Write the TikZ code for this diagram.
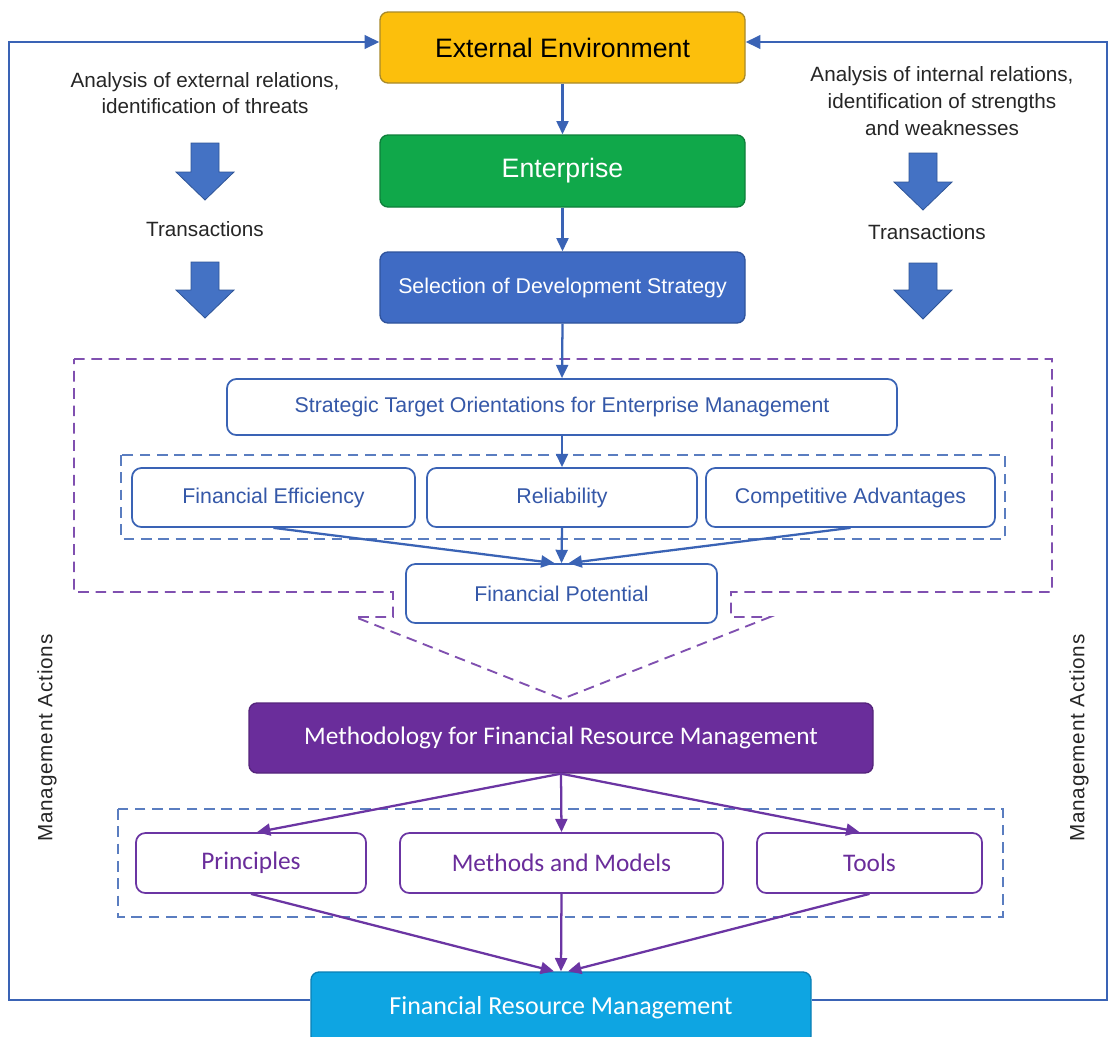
\documentclass[tikz,border=0pt]{standalone}
\usepackage{fontspec}
\setmainfont{Liberation Sans}
\newfontfamily\calfont{Carlito}
\newfontfamily\spacedfont[LetterSpace=4]{Liberation Sans}
\usetikzlibrary{arrows.meta,calc}
\definecolor{cyellow}{HTML}{FCBF0C}
\definecolor{cyellowb}{HTML}{A88A2A}
\definecolor{cgreen}{HTML}{10A84A}
\definecolor{cgreenb}{HTML}{0E7F3A}
\definecolor{cblue}{HTML}{3F6BC4}
\definecolor{cblueb}{HTML}{2F539C}
\definecolor{lineblue}{HTML}{3A63B5}
\definecolor{txtblue}{HTML}{3558A8}
\definecolor{cpurple}{HTML}{6A2D9B}
\definecolor{linepurple}{HTML}{6B35A3}
\definecolor{dashpurple}{HTML}{8050B0}
\definecolor{dashblue}{HTML}{5A7DC0}
\definecolor{ccyan}{HTML}{0EA5E2}
\definecolor{ccyanb}{HTML}{0A7FB5}
\definecolor{bigarrow}{HTML}{4472C4}
\definecolor{bigarrowb}{HTML}{2F5597}
\tikzset{
  sz/.style 2 args={minimum width=#1*0.75pt, minimum height=#2*0.75pt, inner sep=0pt},
  topbox/.style={rounded corners=6pt, line width=1pt, align=center},
  bluebox/.style={rounded corners=7pt, draw=lineblue, line width=1.3pt, fill=white, text=txtblue, font=\fontsize{16}{19}\selectfont},
  purplebox/.style={rounded corners=7pt, draw=linepurple, line width=1.3pt, fill=white, text=cpurple, font=\calfont\fontsize{19}{22}\selectfont},
  barrow/.style={draw=lineblue, line width=1.7pt, -{Triangle[length=10pt,width=9pt]}},
  parrow/.style={draw=linepurple, line width=1.7pt, -{Triangle[length=10pt,width=9pt]}},
  fbline/.style={draw=lineblue, line width=2pt},
  sidetext/.style={align=center, font=\fontsize{15.5}{20}\selectfont, text=black!85},
  dashp/.style={draw=dashpurple, line width=1.4pt, dash pattern=on 8pt off 5pt},
  dashb/.style={draw=dashblue, line width=1.3pt, dash pattern=on 8pt off 5pt},
  bigarr/.style={fill=bigarrow, draw=bigarrowb, line width=0.6pt, line join=miter},
  vert/.style={rotate=90, font=\spacedfont\fontsize{15.5}{18}\selectfont, text=black!85}
}
\begin{document}
\begin{tikzpicture}[x=0.75pt,y=-0.75pt]
\useasboundingbox[fill=white] (0,0) rectangle (1109,1036);

% top boxes
\node[topbox, sz={365}{71}, fill=cyellow, draw=cyellowb, text=black, font=\fontsize{20}{24}\selectfont] (ee) at (562.5,47.5) {External Environment};
\node[topbox, sz={365}{72}, fill=cgreen, draw=cgreenb, text=white, font=\fontsize{20}{24}\selectfont] (ent) at (562.5,171) {Enterprise};
\node[topbox, sz={365}{71}, fill=cblue, draw=cblueb, text=white, font=\fontsize{16}{19}\selectfont] (sel) at (562.5,287.5) {Selection of Development Strategy};

\draw[barrow] (ee.south) -- (ent.north);
\draw[barrow] (ent.south) -- (sel.north);

% side texts
\node[sidetext] (lt) at (205,93) {Analysis of external relations,\\identification of threats};
\node[sidetext] (ltr) at (205,229) {Transactions};
\node[sidetext] (rt) at (942,101) {Analysis of internal relations,\\identification of strengths\\and weaknesses};
\node[sidetext] (rtr) at (927,232) {Transactions};

% big block arrows
\foreach \cx/\ta/\tb/\tc in {205/143/172/200, 205/262/290/318, 923/153/182/210, 923/263/290/319}{
  \draw[bigarr] (\cx-14,\ta) -- (\cx+14,\ta) -- (\cx+14,\tb) -- (\cx+29,\tb) -- (\cx,\tc) -- (\cx-29,\tb) -- (\cx-14,\tb) -- cycle;
}

% outer purple dashed region
\draw[dashp] (74,359) -- (1052,359) -- (1052,592) -- (731,592) -- (731,617) -- (770,617) -- (562,699) -- (355,617) -- (393,617) -- (393,592) -- (74,592) -- cycle;

% strategic
\node[bluebox, sz={670}{56}] (sto) at (562,407) {Strategic Target Orientations for Enterprise Management};
\draw[dashb] (121,455) rectangle (1005,539);
\node[bluebox, sz={283}{59}] (fe) at (273.5,497.5) {Financial Efficiency};
\node[bluebox, sz={270}{59}] (rel) at (562,497.5) {Reliability};
\node[bluebox, sz={289}{59}] (ca) at (850.5,497.5) {Competitive Advantages};
\node[bluebox, sz={311}{59}] (fp) at (561.5,593.5) {Financial Potential};

\draw[barrow] (sel.south) -- (sto.north);
\draw[barrow] (sto.south) -- (rel.north);
\draw[barrow] (fe.south) -- ($(fp.north)+(-7,0)$);
\draw[barrow] (rel.south) -- (fp.north);
\draw[barrow] (ca.south) -- ($(fp.north)+(7,0)$);

% methodology
\node[topbox, sz={624}{70}, fill=cpurple, draw=cpurple!80!black, text=white, font=\calfont\fontsize{19}{22}\selectfont] (meth) at (561,738) {Methodology for Financial Resource Management};
\draw[dashb] (118,809) rectangle (1003,917);
\node[purplebox, sz={230}{60}] (pr) at (251,863) {Principles};
\node[purplebox, sz={323}{60}] (mm) at (561.5,863) {Methods and Models};
\node[purplebox, sz={225}{60}] (tl) at (869.5,863) {Tools};

\draw[parrow] (meth.south) -- ($(pr.north)+(6,0)$);
\draw[parrow] (meth.south) -- (mm.north);
\draw[parrow] (meth.south) -- ($(tl.north)+(-10,0)$);

\node[topbox, sz={500}{72}, fill=ccyan, draw=ccyanb, text=white, font=\calfont\fontsize{19.5}{22}\selectfont] (frm) at (561,1008) {Financial Resource Management};

\draw[parrow] (pr.south) -- ($(frm.north)+(-7,0)$);
\draw[parrow] (mm.south) -- (frm.north);
\draw[parrow] (tl.south) -- ($(frm.north)+(7,0)$);

% feedback loops
\coordinate (bl) at (9,1000);
\coordinate (tlc) at (9,42);
\coordinate (br) at (1107,1000);
\coordinate (trc) at (1107,42);
\draw[fbline, -{Triangle[length=11pt,width=10pt]}] (frm.west |- bl) -- (bl) -- (tlc) -- (ee.west |- tlc);
\draw[fbline, -{Triangle[length=11pt,width=10pt]}] (frm.east |- br) -- (br) -- (trc) -- (ee.east |- trc);

% management actions
\node[vert] (mal) at (47,738) {Management Actions};
\node[vert] (mar) at (1079,738) {Management Actions};
\end{tikzpicture}
\end{document}
